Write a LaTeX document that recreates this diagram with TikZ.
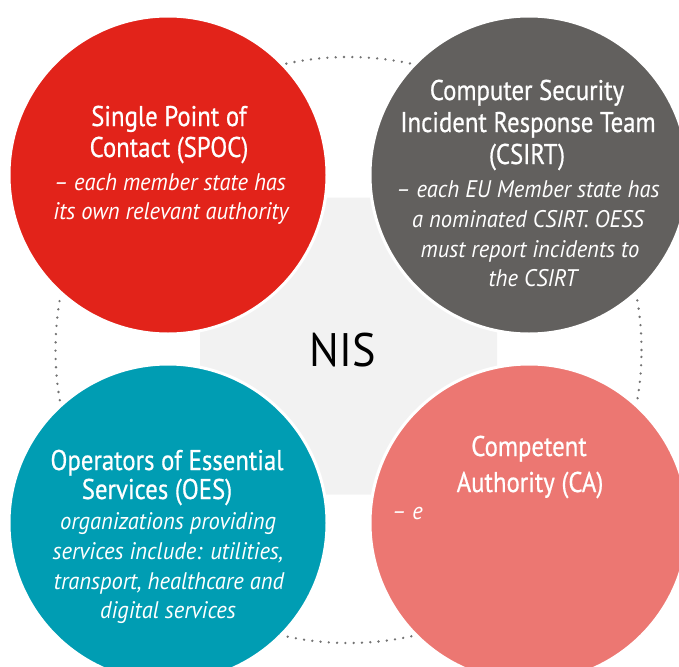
\documentclass[tikz,border=0pt]{standalone}
\usepackage{fontspec}
\setmainfont{PT Sans}
\newfontfamily\titlefont{PT Sans}[FakeStretch=0.87,FakeBold=0.6]
\newfontfamily\descfont{PT Sans}[FakeStretch=0.94]
\newfontfamily\hubfont{PT Sans}[FakeStretch=0.94]
\begin{document}
\begin{tikzpicture}[x=1pt,y=-1pt,
  bubble/.style={circle,draw=white,line width=3pt,minimum size=318pt,inner sep=0pt},
  title/.style={text=white,anchor=base,inner sep=0pt,font=\titlefont\fontsize{28.5}{32}\selectfont},
  desc/.style={text=white,anchor=base,inner sep=0pt,font=\descfont\fontsize{24}{30}\selectfont\itshape},
  ring/.style={draw=black!55,line width=2.6pt,line cap=round,dash pattern=on 0pt off 8.3pt}
]
\definecolor{spocred}{HTML}{E2231A}
\definecolor{csirtgray}{HTML}{62605E}
\definecolor{oesteal}{HTML}{009DB3}
\definecolor{capink}{HTML}{EC7772}
\definecolor{hubgray}{HTML}{F2F2F2}
\useasboundingbox (0,0) rectangle (679,666);

% dotted orbit and central hub
\draw[ring] (348.5,350) circle[radius=293pt];
\node[fill=hubgray,rounded corners=18pt,minimum size=297pt,inner sep=0pt] (hub) at (348.5,346) {};

% the four bubbles
\node[bubble,fill=spocred]   (spoc)  at (168,175) {};
\node[bubble,fill=csirtgray] (csirt) at (529,175) {};
\node[bubble,fill=oesteal]   (oes)   at (168,523) {};
\node[bubble,fill=capink]    (ca)    at (529,523) {};

\node[anchor=base,inner sep=0pt,font=\hubfont\fontsize{47}{52}\selectfont] (nis) at (343,366) {NIS};

% SPOC
\node[title] (spocA) at (169,126) {Single Point of};
\node[title] (spocB) at (169,157) {Contact (SPOC)};
\node[desc]  (spocC) at (170,190) {– each member state has};
\node[desc]  (spocD) at (171,219) {its own relevant authority};

% CSIRT
\node[title] (csirtA) at (527,100) {Computer Security};
\node[title] (csirtB) at (528,132) {Incident Response Team};
\node[title] (csirtC) at (527,164) {(CSIRT)};
\node[desc]  (csirtD) at (528,197) {– each EU Member state has};
\node[desc]  (csirtE) at (528,227) {a nominated CSIRT. OESS};
\node[desc]  (csirtF) at (530,257) {must report incidents to};
\node[desc]  (csirtG) at (533,286) {the CSIRT};

% OES
\node[title] (oesA) at (167,470) {Operators of Essential};
\node[title] (oesB) at (157,499) {Services (OES)};
\node[desc]  (oesC) at (168,529) {organizations providing};
\node[desc]  (oesD) at (168,559) {services include: utilities,};
\node[desc]  (oesE) at (169,589) {transport, healthcare and};
\node[desc]  (oesF) at (168,618) {digital services};

% CA
\node[title] (caA) at (529,456) {Competent};
\node[title] (caB) at (530,492) {Authority (CA)};
\node[desc,anchor=base west] (caC) at (392,519) {– e};
\end{tikzpicture}
\end{document}
